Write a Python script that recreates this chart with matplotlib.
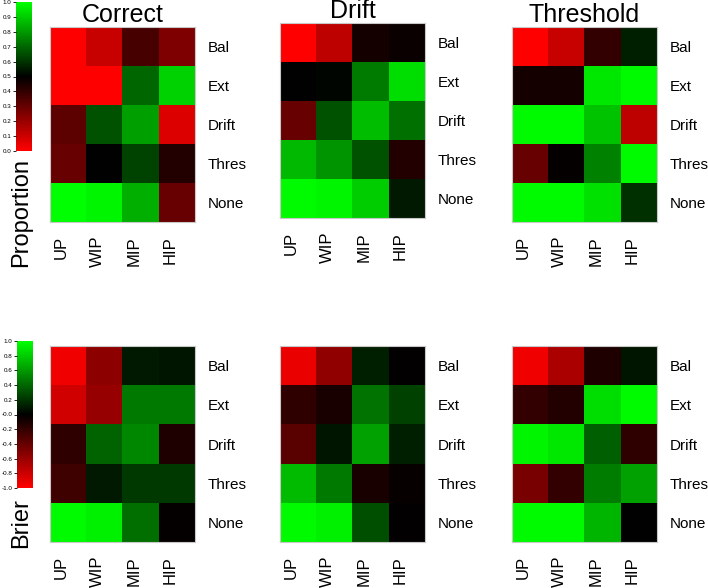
import matplotlib
matplotlib.use("Agg")
import matplotlib.pyplot as plt
import numpy as np
from matplotlib.colors import LinearSegmentedColormap

plt.rcParams['font.family'] = ['Liberation Sans', 'DejaVu Sans']

##### Data #####
models = ["Correct", "Drift", "Threshold"]
rows = ["Bal", "Ext", "Drift", "Thres", "None"]
cols = ["UP", "WIP", "MIP", "HIP"]

# Proportion, 0..1
prop_correct = [[0.00, 0.11, 0.36, 0.25],
                [0.00, 0.00, 0.70, 0.91],
                [0.32, 0.66, 0.81, 0.07],
                [0.30, 0.50, 0.63, 0.43],
                [1.00, 0.98, 0.84, 0.30]]
prop_drift = [[0.00, 0.13, 0.46, 0.48],
              [0.50, 0.51, 0.74, 0.93],
              [0.30, 0.66, 0.87, 0.72],
              [0.86, 0.79, 0.66, 0.43],
              [0.99, 0.98, 0.90, 0.55]]
prop_threshold = [[0.00, 0.11, 0.40, 0.56],
                  [0.46, 0.46, 0.95, 0.99],
                  [0.99, 0.99, 0.88, 0.13],
                  [0.30, 0.49, 0.75, 0.99],
                  [0.99, 0.99, 0.94, 0.59]]

# Brier, -1..1
brier_correct = [[-0.94, -0.55, 0.10, 0.08],
                 [-0.82, -0.59, 0.47, 0.47],
                 [-0.18, 0.39, 0.53, -0.12],
                 [-0.25, 0.10, 0.22, 0.22],
                 [0.98, 0.94, 0.43, -0.02]]
brier_drift = [[-0.92, -0.57, 0.12, -0.01],
               [-0.18, -0.10, 0.45, 0.25],
               [-0.35, 0.08, 0.63, 0.12],
               [0.73, 0.47, -0.10, -0.03],
               [0.98, 0.94, 0.31, -0.01]]
brier_threshold = [[-0.94, -0.67, -0.12, 0.08],
                   [-0.20, -0.14, 0.86, 0.98],
                   [0.96, 0.90, 0.37, -0.18],
                   [-0.47, -0.20, 0.49, 0.63],
                   [0.98, 0.98, 0.71, 0.00]]

prop_data = [prop_correct, prop_drift, prop_threshold]
brier_data = [brier_correct, brier_drift, brier_threshold]

prop_ticks = np.round(np.arange(0, 1.01, 0.1), 1)
brier_ticks = np.round(np.arange(-1, 1.01, 0.2), 1)

cmap = LinearSegmentedColormap.from_list("rbg", ["#ff0000", "#000000", "#00ff00"])

W, H = 708, 588
fig = plt.figure(figsize=(W / 100, H / 100), dpi=100)

def px_axes(x0, y0, x1, y1):
    # pixel box (top-left origin) -> figure axes
    return fig.add_axes([x0 / W, 1 - y1 / H, (x1 - x0) / W, (y1 - y0) / H])

lefts = [50, 280, 512]
tops_prop = [27, 23, 27]

def heat(ax, data, vmin, vmax):
    im = ax.imshow(np.array(data), cmap=cmap, vmin=vmin, vmax=vmax,
                   aspect="auto", interpolation="nearest")
    # labels sit a little left of the cell centres, like in the original
    ax.set_xticks(np.arange(len(cols)) - 0.19)
    ax.set_xticklabels(cols, rotation=90, fontsize=12, va="top")
    ax.set_xlim(-0.5, len(cols) - 0.5)
    ax.set_yticks(range(len(rows)))
    ax.set_yticklabels(rows, fontsize=11)
    ax.yaxis.tick_right()
    ax.tick_params(axis="both", length=0)
    ax.tick_params(axis="x", pad=10)
    ax.tick_params(axis="y", pad=9)
    for s in ax.spines.values():
        s.set_color("#c8c8c8")
        s.set_linewidth(0.8)
    return im

ims_top = []
for i in range(3):
    ax = px_axes(lefts[i], tops_prop[i], lefts[i] + 145, tops_prop[i] + 195)
    ims_top.append(heat(ax, prop_data[i], 0, 1))
    ax.set_title(models[i], fontsize=18, pad=3)

ims_bot = []
for i in range(3):
    ax = px_axes(lefts[i], 346, lefts[i] + 145, 542)
    ims_bot.append(heat(ax, brier_data[i], -1, 1))

##### Colorbars #####
def cbar(im, box, ticks):
    cax = px_axes(*box)
    cb = fig.colorbar(im, cax=cax, ticks=ticks)
    cb.outline.set_visible(False)
    cax.yaxis.set_ticks_position("left")
    cax.tick_params(labelsize=4.5, length=2.5, width=0.6, pad=1)
    cax.set_yticklabels([f"{t:.1f}" for t in ticks])
    return cb

cbar(ims_top[0], (16, 2, 32, 151), prop_ticks)
cbar(ims_bot[0], (17, 341, 33, 488), brier_ticks)

fig.text(21 / W, 1 - 158 / H, "Proportion", rotation=90, fontsize=17,
         ha="center", va="top")
fig.text(21 / W, 1 - 498 / H, "Brier", rotation=90, fontsize=17,
         ha="center", va="top")

fig.savefig("out.png", dpi=100)
